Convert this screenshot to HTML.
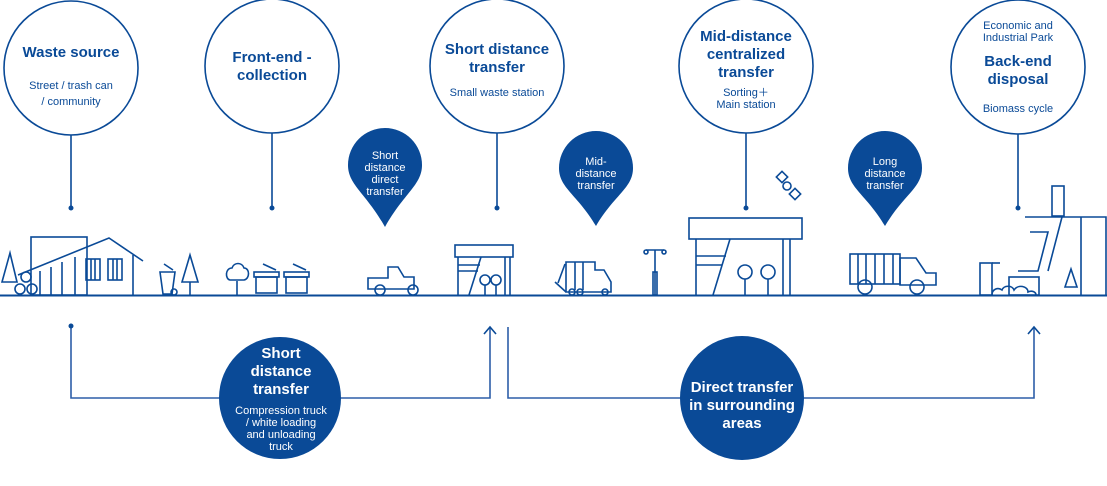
<!DOCTYPE html>
<html><head><meta charset="utf-8"><style>
html,body{margin:0;padding:0;background:#fff;width:1107px;height:486px;overflow:hidden}
svg{display:block}
text{font-family:"Liberation Sans",sans-serif;text-anchor:middle}
.b{font-weight:bold;font-size:15px;fill:#0a4a97}
.s{font-size:11px;fill:#0a4a97}
.wb{font-weight:bold;font-size:15px;fill:#fff}
.ws{font-size:11px;fill:#fff}
</style></head><body>
<svg width="1107" height="486" viewBox="0 0 1107 486" xmlns="http://www.w3.org/2000/svg">
<g fill="none" stroke="#0a4a97" stroke-width="1.6">
<circle cx="71" cy="68" r="67"/>
<circle cx="272" cy="66" r="67"/>
<circle cx="497" cy="66" r="67"/>
<circle cx="746" cy="66" r="67"/>
<circle cx="1018" cy="67" r="67"/>
<line x1="71" y1="135" x2="71" y2="208"/>
<line x1="272" y1="133" x2="272" y2="208"/>
<line x1="497" y1="133" x2="497" y2="208"/>
<line x1="746" y1="133" x2="746" y2="208"/>
<line x1="1018" y1="134" x2="1018" y2="208"/>
<line x1="0" y1="295.5" x2="1107" y2="295.5" stroke-width="2"/>
<!-- bottom brackets -->
<polyline points="71,326 71,398 490,398 490,327" stroke="#2d5ea8"/>
<polyline points="484,334 490,327 496,334"/>
<polyline points="508,327 508,398 1034,398 1034,327" stroke="#2d5ea8"/>
<polyline points="1028,334 1034,327 1040,334"/>
<!-- house -->
<rect x="31" y="237" width="56" height="58"/>
<polyline points="18,275 109,238 143,261"/>
<line x1="40" y1="271" x2="40" y2="295"/><line x1="51" y1="267" x2="51" y2="295"/><line x1="62" y1="262" x2="62" y2="295"/><line x1="75" y1="257" x2="75" y2="295"/>
<line x1="133" y1="255" x2="133" y2="295"/>
<rect x="86" y="259" width="14" height="21"/><rect x="108" y="259" width="14" height="21"/>
<line x1="91" y1="259" x2="91" y2="280"/><line x1="95" y1="259" x2="95" y2="280"/><line x1="113" y1="259" x2="113" y2="280"/><line x1="117" y1="259" x2="117" y2="280"/>
<polygon points="2,282 10,253 17,282"/>
<circle cx="26" cy="277" r="5"/><circle cx="20" cy="289" r="5"/><circle cx="32" cy="289" r="5"/>
<!-- bin & tree -->
<polygon points="160,272 175,272 172,294 163,294"/><line x1="164" y1="264" x2="173" y2="270"/><circle cx="174" cy="292" r="3"/>
<polygon points="182,282 190,255 198,282"/><line x1="190" y1="282" x2="190" y2="295"/>
<path d="M237,295V281M230,280c-5,-1,-5,-12,2,-12c2,-6,10,-6,12,0c6,0,6,11,0,12z"/>
<rect x="254" y="272" width="25" height="5"/><rect x="256" y="277" width="21" height="16"/><line x1="263" y1="264" x2="276" y2="270"/>
<rect x="284" y="272" width="25" height="5"/><rect x="286" y="277" width="21" height="16"/><line x1="293" y1="264" x2="306" y2="270"/>
<!-- small truck -->
<path d="M368,278h20v-11h10l6,10h10v12h-46z"/><circle cx="380" cy="290" r="5"/><circle cx="413" cy="290" r="5"/>
<!-- small station -->
<rect x="455" y="245" width="58" height="12"/><line x1="458" y1="257" x2="458" y2="295"/><line x1="505" y1="257" x2="505" y2="295"/><line x1="510" y1="257" x2="510" y2="295"/>
<line x1="458" y1="265" x2="480" y2="265"/><line x1="458" y1="271" x2="478" y2="271"/><line x1="481" y1="257" x2="469" y2="295"/>
<circle cx="485" cy="280" r="5"/><line x1="485" y1="285" x2="485" y2="295"/><circle cx="496" cy="280" r="5"/><line x1="496" y1="285" x2="496" y2="295"/>
<!-- mid truck -->
<path d="M566,262h29v8h9l7,12v10h-45z"/><line x1="565" y1="264" x2="558" y2="283"/><line x1="555" y1="282" x2="566" y2="292"/>
<line x1="575" y1="262" x2="575" y2="290"/><line x1="583" y1="262" x2="583" y2="290"/>
<circle cx="572" cy="292" r="3"/><circle cx="580" cy="292" r="3"/><circle cx="605" cy="292" r="3"/>
<!-- lamp -->
<line x1="655" y1="250" x2="655" y2="295"/><line x1="646" y1="250" x2="664" y2="250"/><circle cx="646" cy="252" r="2"/><circle cx="664" cy="252" r="2"/><rect x="653" y="272" width="4" height="23"/>
<!-- big station -->
<rect x="689" y="218" width="113" height="21"/><line x1="696" y1="239" x2="696" y2="295"/><line x1="783" y1="239" x2="783" y2="295"/><line x1="790" y1="239" x2="790" y2="295"/>
<line x1="696" y1="256" x2="726" y2="256"/><line x1="696" y1="265" x2="722" y2="265"/><line x1="730" y1="239" x2="713" y2="295"/>
<circle cx="745" cy="272" r="7"/><line x1="745" y1="279" x2="745" y2="295"/><circle cx="768" cy="272" r="7"/><line x1="768" y1="279" x2="768" y2="295"/>
<!-- satellite -->
<rect x="778" y="173" width="8" height="8" transform="rotate(45 782 177)"/><circle cx="787" cy="186" r="4"/><rect x="791" y="190" width="8" height="8" transform="rotate(45 795 194)"/>
<!-- long truck -->
<rect x="850" y="254" width="50" height="30"/><line x1="858" y1="254" x2="858" y2="284"/><line x1="866" y1="254" x2="866" y2="284"/><line x1="875" y1="254" x2="875" y2="284"/><line x1="884" y1="254" x2="884" y2="284"/><line x1="893" y1="254" x2="893" y2="284"/>
<path d="M900,258h16l10,15h10v12h-36z"/><circle cx="865" cy="287" r="7"/><circle cx="917" cy="287" r="7"/>
<!-- disposal -->
<rect x="1052" y="186" width="12" height="30"/>
<polyline points="1025,217 1106,217 1106,295"/>
<polyline points="1081,295 1081,217"/><polyline points="1062,217 1048,271"/>
<polyline points="1030,232 1048,232 1038,271 1018,271"/>
<rect x="980" y="263" width="12" height="32"/><line x1="992" y1="263" x2="1000" y2="263"/>
<rect x="1009" y="277" width="30" height="18"/>
<polygon points="1065,287 1071,269 1077,287"/>
<path d="M992,295c0,-6,6,-8,10,-5c2,-5,10,-5,12,0c4,-6,14,-4,14,2c4,-2,8,0,8,3"/>
</g>
<!-- dots -->
<g fill="#0a4a97">
<circle cx="71" cy="208" r="2.5"/><circle cx="272" cy="208" r="2.5"/><circle cx="497" cy="208" r="2.5"/><circle cx="746" cy="208" r="2.5"/><circle cx="1018" cy="208" r="2.5"/><circle cx="71" cy="326" r="2.5"/>
<!-- pins -->
<path d="M348,165a37,37 0 1 1 74,0c0,20 -18,28 -37,62c-19,-34 -37,-42 -37,-62z"/>
<path d="M559,168a37,37 0 1 1 74,0c0,20 -18,26 -37,58c-19,-32 -37,-38 -37,-58z"/>
<path d="M848,168a37,37 0 1 1 74,0c0,20 -18,26 -37,58c-19,-32 -37,-38 -37,-58z"/>
<circle cx="280" cy="398" r="61"/>
<circle cx="742" cy="398" r="62"/>
</g>
<!-- top labels -->
<text class="b" x="71" y="57">Waste source</text>
<text class="s" x="71" y="89">Street / trash can</text>
<text class="s" x="71" y="105">/ community</text>
<text class="b" x="272" y="62">Front-end -</text>
<text class="b" x="272" y="80">collection</text>
<text class="b" x="497" y="54">Short distance</text>
<text class="b" x="497" y="72">transfer</text>
<text class="s" x="497" y="96">Small waste station</text>
<text class="b" x="746" y="41">Mid-distance</text>
<text class="b" x="746" y="59">centralized</text>
<text class="b" x="746" y="77">transfer</text>
<text class="s" x="746" y="96">Sorting＋</text>
<text class="s" x="746" y="108">Main station</text>
<text class="s" x="1018" y="29">Economic and</text>
<text class="s" x="1018" y="41">Industrial Park</text>
<text class="b" x="1018" y="66">Back-end</text>
<text class="b" x="1018" y="84">disposal</text>
<text class="s" x="1018" y="112">Biomass cycle</text>
<!-- pins labels -->
<text class="ws" x="385" y="159">Short</text>
<text class="ws" x="385" y="171">distance</text>
<text class="ws" x="385" y="183">direct</text>
<text class="ws" x="385" y="195">transfer</text>
<text class="ws" x="596" y="165">Mid-</text>
<text class="ws" x="596" y="177">distance</text>
<text class="ws" x="596" y="189">transfer</text>
<text class="ws" x="885" y="165">Long</text>
<text class="ws" x="885" y="177">distance</text>
<text class="ws" x="885" y="189">transfer</text>
<!-- bottom labels -->
<text class="wb" x="281" y="358">Short</text>
<text class="wb" x="281" y="376">distance</text>
<text class="wb" x="281" y="394">transfer</text>
<text class="ws" x="281" y="414">Compression truck</text>
<text class="ws" x="281" y="426">/ white loading</text>
<text class="ws" x="281" y="438">and unloading</text>
<text class="ws" x="281" y="450">truck</text>
<text class="wb" x="742" y="392">Direct transfer</text>
<text class="wb" x="742" y="410">in surrounding</text>
<text class="wb" x="742" y="428">areas</text>
</svg>
</body></html>
